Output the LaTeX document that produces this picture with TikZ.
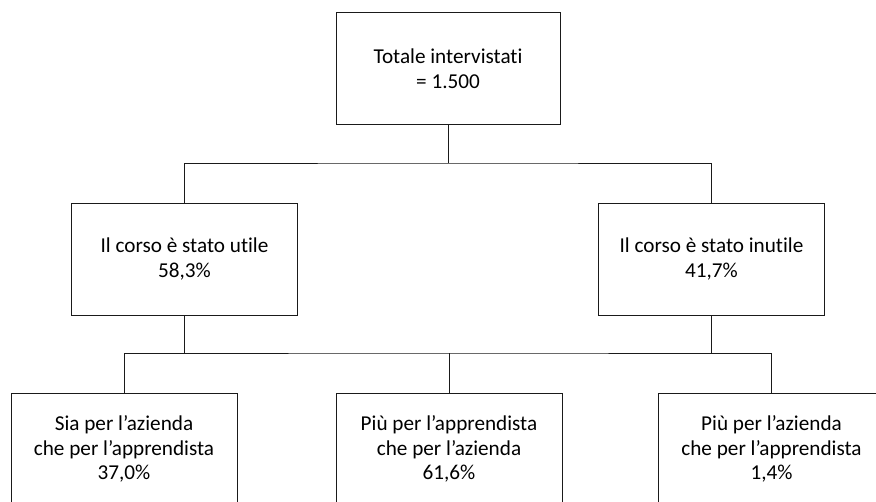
\documentclass[tikz,border=0pt]{standalone}
\usepackage{fontspec}
\setmainfont[Ligatures={NoCommon}]{Carlito}
\usetikzlibrary{positioning, calc}
\definecolor{boxline}{HTML}{1A1A1A}

\tikzset{
    databox/.style={draw=boxline, line width=0.9pt, minimum width=226pt,
        minimum height=112pt, align=center, inner sep=0pt,
        font=\fontsize{21.2pt}{24.5pt}\selectfont},
    link/.style={draw=boxline, line width=0.9pt}
}

\begin{document}
\begin{tikzpicture}[x=1pt, y=-1pt]
    \useasboundingbox[fill=white] (0, 0) rectangle (876, 501);
    % Totale
    \node[databox, minimum width=224pt] (totale) at (448, 68.5)
        {Totale intervistati\\= 1.500};
    % Utile / inutile
    \node[databox] (utile) at (184.5, 259) {Il corso è stato utile\\58,3\%};
    \node[databox] (inutile) at (711.5, 259) {Il corso è stato inutile\\41,7\%};
    % Ripartizione
    \node[databox] (entrambi) at (124, 449)
        {Sia per l'azienda\\che per l'apprendista\\37,0\%};
    \node[databox] (apprendista) at (449, 449)
        {Più per l'apprendista\\che per l'azienda\\61,6\%};
    \node[databox] (azienda) at (771.5, 449)
        {Più per l'azienda\\che per l'apprendista\\1,4\%};
    % Connettori
    \coordinate (bar1) at (448, 163);
    \coordinate (bar2) at (449, 353);
    \draw[link] (totale.south) -- (bar1);
    \draw[link] (utile.north) |- (bar1) -| (inutile.north);
    \draw[link] (utile.south) -- (utile.south |- bar2);
    \draw[link] (inutile.south) -- (inutile.south |- bar2);
    \draw[link] (entrambi.north) |- (bar2) -| (azienda.north);
    \draw[link] (apprendista.north) -- (bar2);
\end{tikzpicture}
\end{document}
